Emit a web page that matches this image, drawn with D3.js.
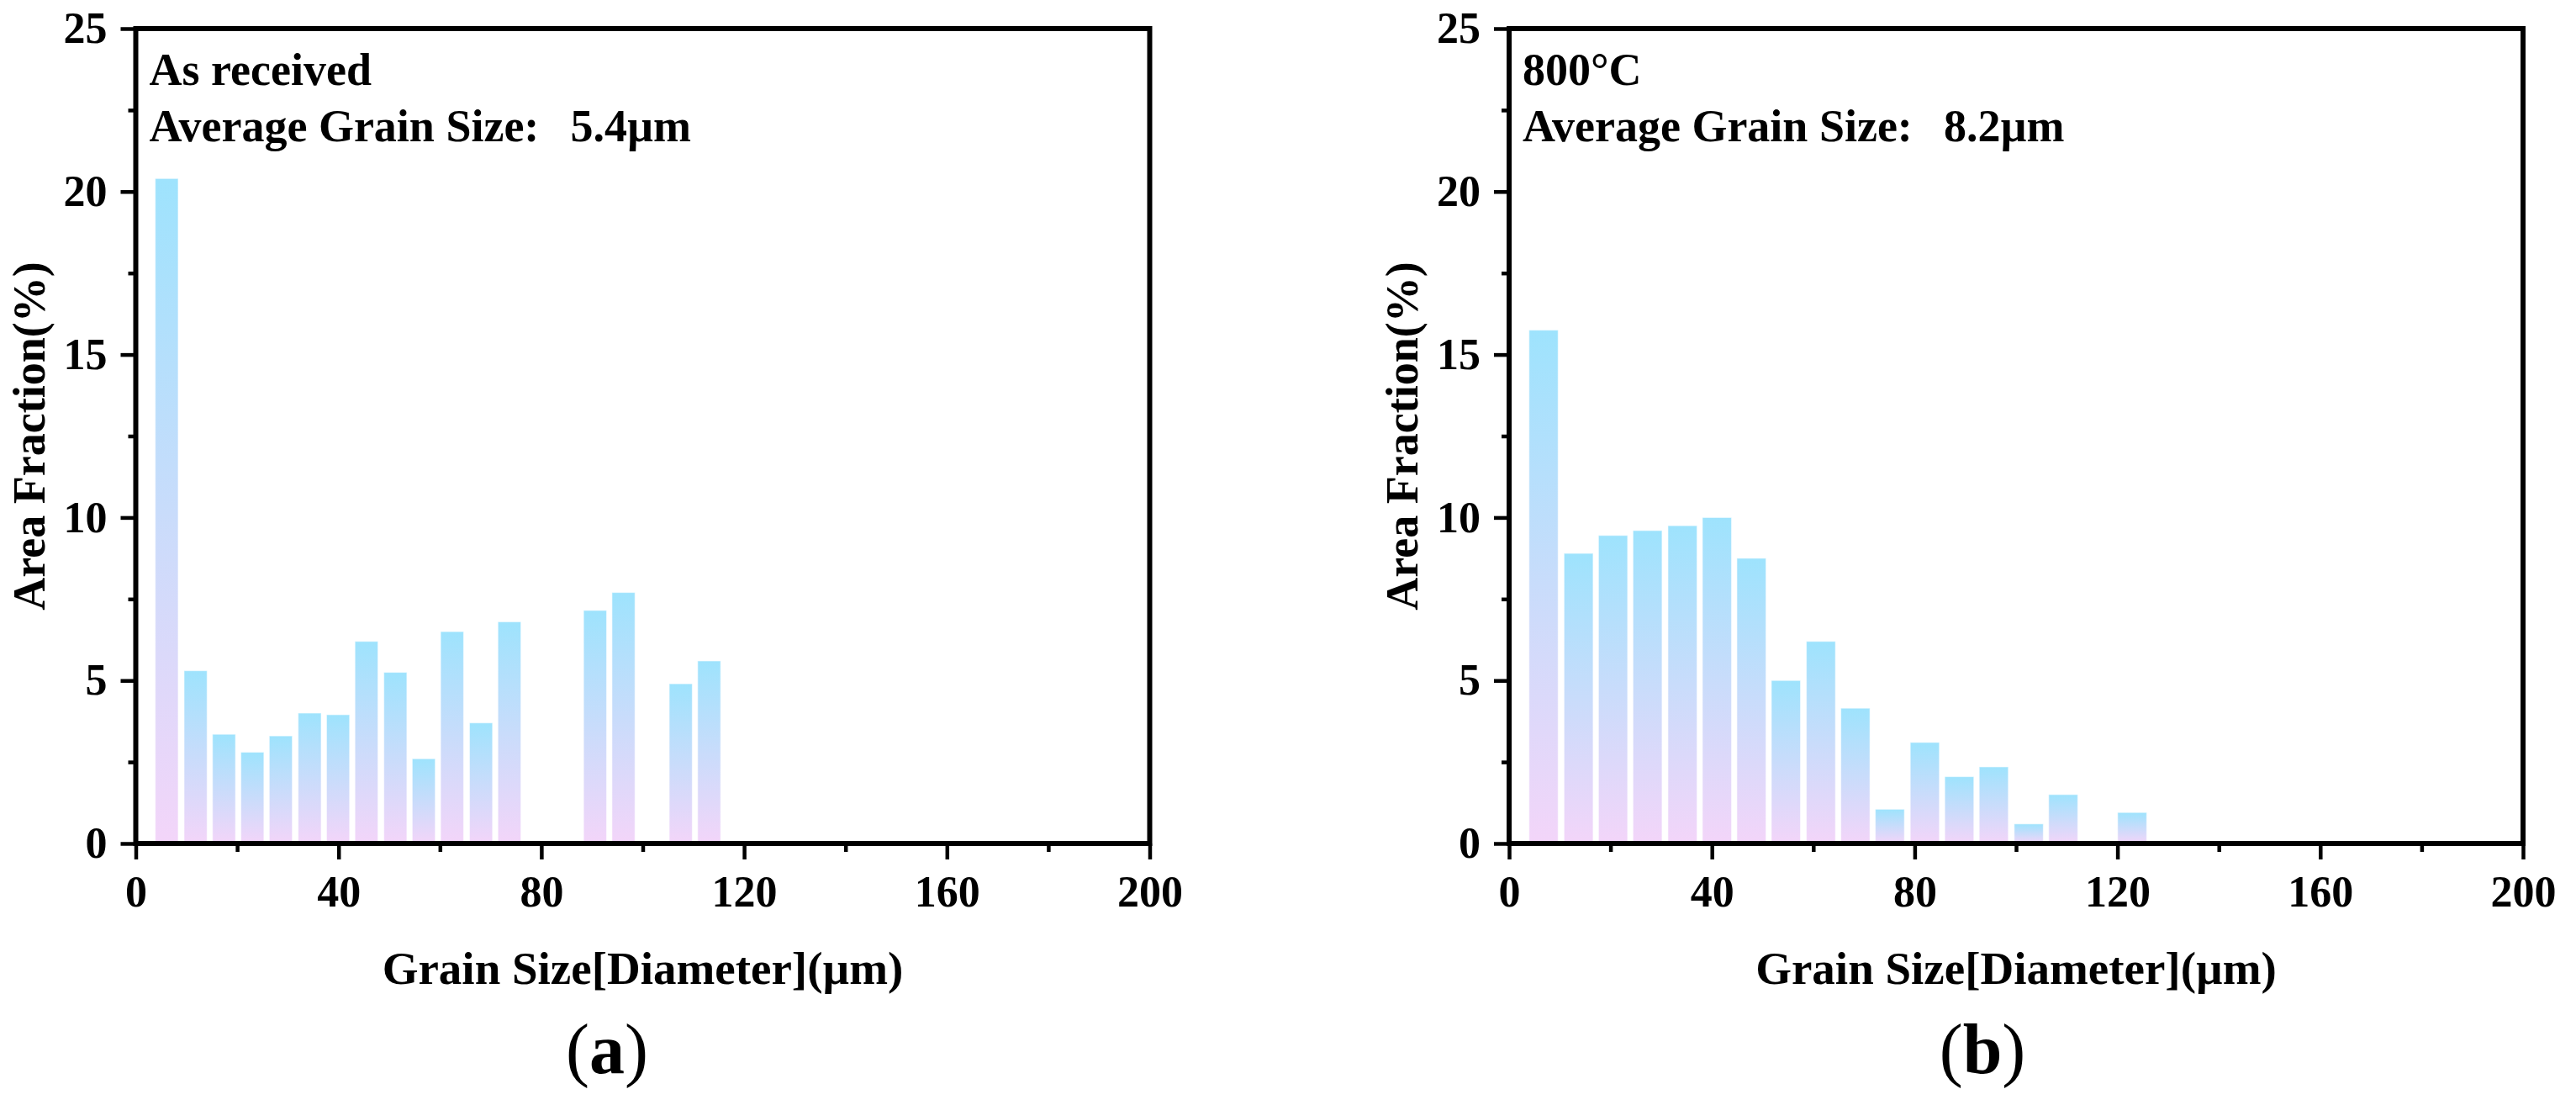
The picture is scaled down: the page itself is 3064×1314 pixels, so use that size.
<!DOCTYPE html>
<html>
<head>
<meta charset="utf-8">
<script src="https://cdn.jsdelivr.net/npm/d3@7"></script>
<style>
  html, body { margin: 0; padding: 0; background: #ffffff; }
  svg { display: block; }
  text { font-family: "Liberation Serif", "Times New Roman", serif; }
</style>
</head>
<body>
<svg id="chart" width="3064" height="1314"></svg>
<script>
// ---------------- data ----------------
const binsA   = [6.1, 11.8, 17.4, 23.0, 28.6, 34.3, 39.9, 45.5, 51.2, 56.8, 62.4, 68.1, 73.7, 79.3, 84.9, 90.6, 96.2, 101.8, 107.5, 113.1];
const valuesA = [20.4, 5.3, 3.35, 2.8, 3.3, 4.0, 3.95, 6.2, 5.25, 2.6, 6.5, 3.7, 6.8, 0, 0, 7.15, 7.7, 0, 4.9, 5.6];

const binsB   = [6.8, 13.7, 20.5, 27.3, 34.2, 41.0, 47.8, 54.6, 61.5, 68.3, 75.1, 82.0, 88.8, 95.6, 102.5, 109.3, 116.1, 122.9];
const valuesB = [15.75, 8.9, 9.45, 9.6, 9.75, 10.0, 8.75, 5.0, 6.2, 4.15, 1.05, 3.1, 2.05, 2.35, 0.6, 1.5, 0, 0.95];

const xMajorTicks = [0, 40, 80, 120, 160, 200];
const xMinorTicks = [20, 60, 100, 140, 180];
const yMajorTicks = [0, 5, 10, 15, 20, 25];
const yMinorTicks = [2.5, 7.5, 12.5, 17.5, 22.5];

const xTitle = "Grain Size[Diameter](\u00b5m)";
const yTitle = "Area Fraction(%)";

const panels = [
  { bins: binsA, values: valuesA, label1: "As received", avgLabel: "Average Grain Size:", avgValue: "5.4\u00b5m", caption: "a", left: 161.5, captionX: 722 },
  { bins: binsB, values: valuesB, label1: "800\u00b0C",     avgLabel: "Average Grain Size:", avgValue: "8.2\u00b5m", caption: "b", left: 1795,  captionX: 2358 }
];

// ---------------- layout ----------------
const svg = d3.select("#chart");
const plotW = 1206, plotTop = 34, plotBottom = 1003;
const FONT = "'Liberation Serif', 'Times New Roman', serif";

const defs = svg.append("defs");
const grad = defs.append("linearGradient")
  .attr("id", "barGrad").attr("x1", 0).attr("y1", 0).attr("x2", 0).attr("y2", 1);
grad.append("stop").attr("offset", "0%").attr("stop-color", "#9ee3fd");
grad.append("stop").attr("offset", "100%").attr("stop-color", "#f3d5f9");

panels.forEach(p => {
  const x = d3.scaleLinear().domain([0, 200]).range([p.left, p.left + plotW]);
  const y = d3.scaleLinear().domain([0, 25]).range([plotBottom, plotTop]);
  const g = svg.append("g");

  // bars
  const step = p.bins[1] - p.bins[0];
  const bw = (x(step) - x(0)) - 7;
  g.append("g").selectAll("rect")
    .data(p.values.map((v, i) => ({ c: p.bins[i], v })).filter(d => d.v > 0))
    .join("rect")
    .attr("x", d => x(d.c) - bw / 2)
    .attr("width", bw)
    .attr("y", d => y(d.v))
    .attr("height", d => y(0) - y(d.v))
    .attr("fill", "url(#barGrad)")
    .attr("stroke", "#ffffff")
    .attr("stroke-opacity", 0.5)
    .attr("stroke-width", 1.2);

  // x axis (major)
  const xAx = g.append("g").attr("transform", `translate(0,${plotBottom})`)
    .call(d3.axisBottom(x).tickValues(xMajorTicks).tickSize(19).tickPadding(19).tickFormat(d3.format("d")));
  // x axis (minor)
  const xAxm = g.append("g").attr("transform", `translate(0,${plotBottom})`)
    .call(d3.axisBottom(x).tickValues(xMinorTicks).tickSize(10).tickFormat(""));
  // y axis (major)
  const yAx = g.append("g").attr("transform", `translate(${p.left},0)`)
    .call(d3.axisLeft(y).tickValues(yMajorTicks).tickSize(18).tickPadding(16).tickFormat(d3.format("d")));
  // y axis (minor)
  const yAxm = g.append("g").attr("transform", `translate(${p.left},0)`)
    .call(d3.axisLeft(y).tickValues(yMinorTicks).tickSize(9).tickFormat(""));

  [xAx, xAxm, yAx, yAxm].forEach(a => {
    a.select(".domain").remove();
    a.selectAll(".tick line").attr("stroke", "#000").attr("stroke-width", 4.5);
    a.selectAll(".tick text")
      .attr("font-family", FONT).attr("font-weight", "bold")
      .attr("font-size", 52).attr("fill", "#000");
  });

  // frame
  g.append("rect")
    .attr("x", x(0)).attr("y", y(25))
    .attr("width", x(200) - x(0)).attr("height", y(0) - y(25))
    .attr("fill", "none").attr("stroke", "#000").attr("stroke-width", 6);

  // annotations
  const tx = x(0) + 16;
  g.append("text").attr("x", tx).attr("y", 101)
    .attr("font-family", FONT).attr("font-weight", "bold").attr("font-size", 54)
    .text(p.label1);
  const avg = g.append("text").attr("x", tx).attr("y", 168)
    .attr("font-family", FONT).attr("font-weight", "bold").attr("font-size", 54);
  avg.append("tspan").text(p.avgLabel);
  avg.append("tspan").attr("x", tx + 501).text(p.avgValue);

  // axis titles
  g.append("text")
    .attr("x", (x(0) + x(200)) / 2).attr("y", 1170)
    .attr("text-anchor", "middle")
    .attr("font-family", FONT).attr("font-weight", "bold").attr("font-size", 55)
    .text(xTitle);
  g.append("text")
    .attr("transform", `translate(${p.left - 109},${(y(0) + y(25)) / 2}) rotate(-90)`)
    .attr("text-anchor", "middle")
    .attr("font-family", FONT).attr("font-weight", "bold").attr("font-size", 54)
    .text(yTitle);

  // caption
  const cap = g.append("text")
    .attr("x", p.captionX).attr("y", 1276)
    .attr("text-anchor", "middle")
    .attr("font-family", FONT).attr("font-size", 84).attr("fill", "#000");
  cap.append("tspan").text("(");
  cap.append("tspan").attr("font-weight", "bold").text(p.caption);
  cap.append("tspan").text(")");
});
</script>
</body>
</html>
